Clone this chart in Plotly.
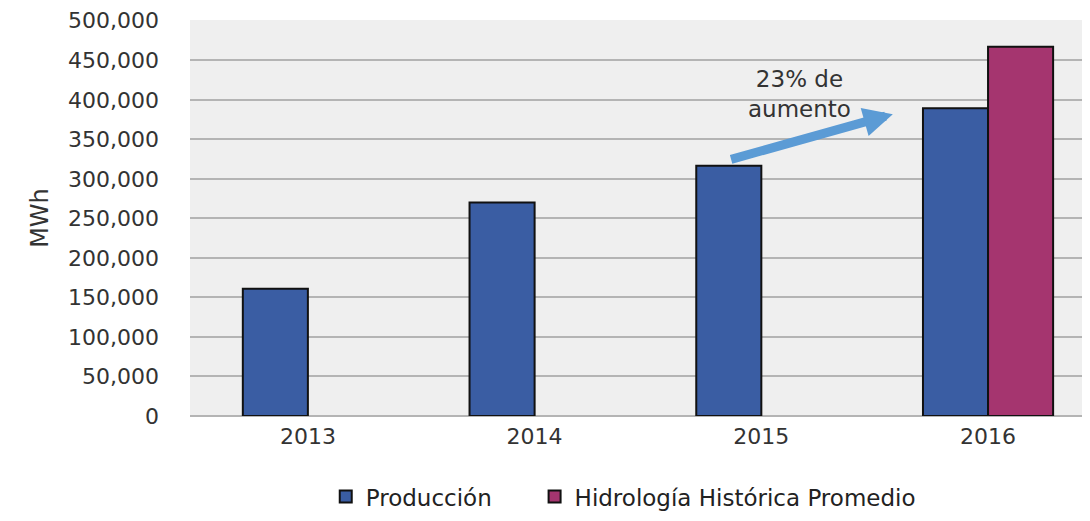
import plotly.graph_objects as go

years = ["2013", "2014", "2015", "2016"]
produccion = [161000, 270000, 316600, 389400]
hidrologia = [None, None, None, 467300]
series_names = ["Producción", "Hidrología Histórica Promedio"]
y_ticks = list(range(0, 500001, 50000))
annotation_text = "23% de<br>aumento"

fig = go.Figure()
fig.add_trace(go.Bar(
    x=years, y=produccion, name=series_names[0], legend="legend",
    marker=dict(color="#3A5DA3", line=dict(color="#111111", width=2)),
))
fig.add_trace(go.Bar(
    x=years, y=hidrologia, name=series_names[1], legend="legend2",
    marker=dict(color="#A5356F", line=dict(color="#111111", width=2)),
))

# arrow from the 2015 bar towards the 2016 bar
fig.add_annotation(
    x=2.58, y=produccion[3] - 7500,
    ax=1.86, ay=produccion[2] + 7500,
    xref="x", yref="y", axref="x", ayref="y",
    text="", showarrow=True, arrowhead=2, arrowsize=0.65,
    arrowwidth=9, arrowcolor="#5B9BD5",
)
fig.add_annotation(
    x=2.17, y=408000, xref="x", yref="y",
    text=annotation_text, showarrow=False,
    font=dict(family="DejaVu Sans", size=23, color="#333333"),
    align="center",
)

legend_font = dict(family="DejaVu Sans", size=23, color="#222222")

fig.update_layout(
    width=1090, height=521,
    margin=dict(l=182, r=0, t=12, b=113),
    paper_bgcolor="white", plot_bgcolor="#EFEFEF",
    barmode="group", bargap=0.426, bargroupgap=0,
    font=dict(family="DejaVu Sans", color="#333333"),
    showlegend=True,
    legend=dict(
        orientation="h", x=0.1495, xanchor="left", y=-0.2035, yanchor="middle",
        font=legend_font, itemwidth=30,
    ),
    legend2=dict(
        orientation="h", x=0.3795, xanchor="left", y=-0.2035, yanchor="middle",
        font=legend_font, itemwidth=30,
    ),
    yaxis=dict(
        range=[0, 501000], tickvals=y_ticks, tickformat=",",
        automargin=False,
        showgrid=True, gridcolor="#B4B4B4", gridwidth=1.5,
        zeroline=True, zerolinecolor="#B4B4B4", zerolinewidth=1.5,
        tickfont=dict(family="DejaVu Sans", size=22, color="#333333"),
        ticklabelstandoff=30,
        title=dict(text="MWh", font=dict(family="DejaVu Sans", size=24, color="#333333"), standoff=12),
    ),
    xaxis=dict(
        type="category", range=[-0.52, 3.485],
        automargin=False,
        tickfont=dict(family="DejaVu Sans", size=22, color="#333333"),
        ticklabelstandoff=5,
        showgrid=False,
    ),
)

fig.write_html("out.html")
